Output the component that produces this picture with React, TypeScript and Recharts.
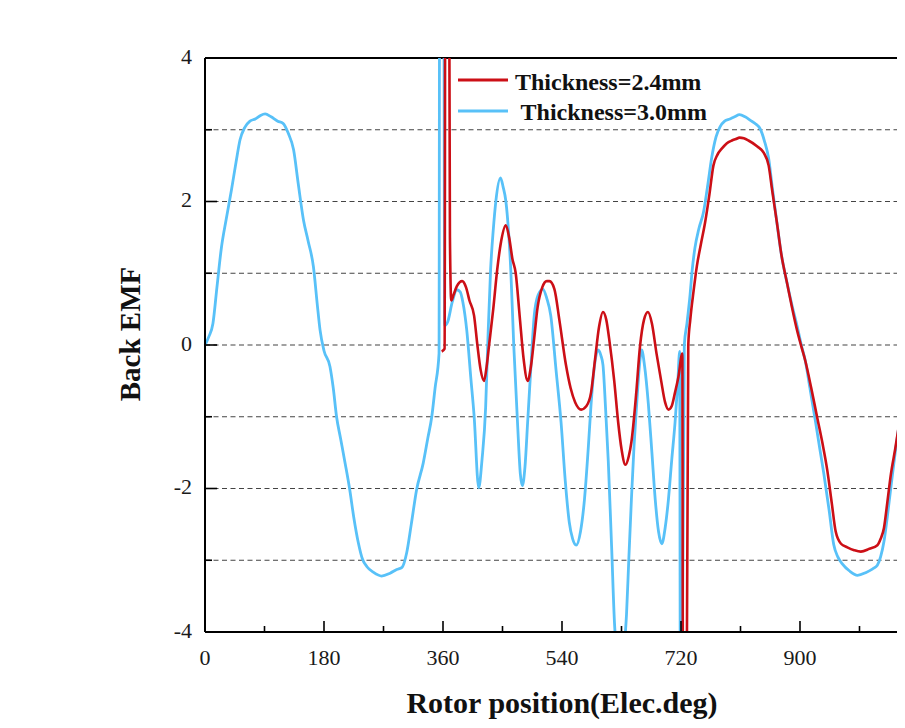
import React from 'react'
import { LineChart, Line, XAxis, YAxis, CartesianGrid, ReferenceLine, Legend, Label } from 'recharts'

// rotor position (elec. deg) and back EMF
const degThin = [
  358, 362.5, 363.5, 369, 370.5, 372.5, 376, 381, 389, 395, 400, 407, 412, 417, 422, 426, 429.5, 436, 442, 448,
  455, 460, 465, 470, 476, 482, 488, 493, 498, 503, 510, 517, 521, 528.5, 536, 546, 553, 560, 569, 577,
  584, 590, 596, 602, 607, 612, 619, 625, 630, 636, 641, 645, 652, 658, 664, 670, 676, 683, 690, 696,
  701, 706, 711, 716, 722, 723, 728.5, 731, 734, 739, 744, 750, 756.5, 763, 769, 775, 782, 789, 797, 803,
  808.6, 815, 822, 835, 845, 852.6, 858, 865, 872, 880.5, 888, 895.7, 902, 908, 917, 926, 934, 941, 948, 954,
  962, 971.6, 982, 992, 1005, 1017, 1022, 1027, 1032, 1037.5, 1044, 1050, 1055, 1060, 1070, 1080,
]
const emfThin = [
  -0.09, -0.05, 6, 6, 1.5, 0.62, 0.7, 0.82, 0.89, 0.8, 0.62, 0.41, 0.0, -0.35, -0.5, -0.3, -0.02, 0.5, 1.05, 1.45,
  1.67, 1.5, 1.2, 1.0, 0.4, -0.2, -0.5, -0.3, 0.1, 0.52, 0.8, 0.89, 0.89, 0.78, 0.35, -0.28, -0.6, -0.8, -0.9, -0.85,
  -0.66, -0.2, 0.25, 0.46, 0.35, 0.04, -0.5, -1.08, -1.45, -1.67, -1.55, -1.35, -0.7, -0.02, 0.35, 0.46, 0.3, -0.12, -0.5, -0.8,
  -0.9, -0.85, -0.66, -0.45, -0.12, -5, -5, 0.0, 0.35, 0.75, 1.1, 1.4, 1.71, 2.1, 2.5, 2.65, 2.74, 2.81, 2.85, 2.87,
  2.89, 2.88, 2.85, 2.77, 2.68, 2.5, 2.15, 1.71, 1.25, 0.86, 0.52, 0.2, -0.02, -0.22, -0.6, -1.01, -1.37, -1.73, -2.2, -2.6,
  -2.77, -2.82, -2.86, -2.88, -2.84, -2.79, -2.7, -2.55, -2.2, -1.8, -1.45, -1.1, -0.8, -0.5, -0.15, 0,
]

const degThick = [
  0, 6, 12, 18, 25, 32, 40, 47, 53, 60, 68, 76, 84, 91, 100, 110, 118, 126, 134, 141,
  149, 156, 164, 170, 174, 180, 189, 194, 199, 205, 212, 219, 225, 232, 238, 245, 255, 267, 280, 290,
  298, 305, 312, 320, 330, 337, 343, 348, 354, 355, 361, 362.5, 367, 374, 381, 386, 390, 396, 402, 407,
  414, 419, 424.5, 428, 432, 436, 440, 447, 451, 455, 459, 462.5, 467, 472.7, 477, 480, 484, 488, 493, 498,
  504, 511, 517, 523, 531, 538.6, 545, 551, 556, 561.5, 568, 574, 580, 584, 589, 594.6, 599, 602, 606, 610,
  615, 620, 625, 631, 635, 637.6, 641, 645, 649, 653, 657, 660.5, 665, 670.6, 676, 681, 686, 691, 696, 701,
  706, 711, 715, 718, 719, 721.5, 725, 729, 733.7, 737, 741, 747, 754, 760, 766.6, 773, 779, 786, 794, 801,
  808.6, 817, 825, 833, 840, 846, 852.6, 858, 865, 872, 880.5, 888, 895.7, 902, 908, 915, 923.5, 930, 936, 944,
  951, 957, 964, 975, 987, 1000, 1010, 1017, 1022, 1027, 1032, 1037.5, 1044, 1050, 1055, 1060, 1070, 1080,
]
const emfThick = [
  0, 0.12, 0.3, 0.8, 1.37, 1.75, 2.16, 2.55, 2.86, 3.03, 3.12, 3.15, 3.2, 3.22, 3.18, 3.12, 3.09, 2.95, 2.72, 2.25,
  1.74, 1.45, 1.09, 0.55, 0.21, -0.08, -0.3, -0.6, -1.0, -1.3, -1.65, -2.02, -2.4, -2.76, -2.98, -3.09, -3.17, -3.22, -3.18, -3.13,
  -3.1, -2.9, -2.5, -2.02, -1.65, -1.3, -1.0, -0.6, -0.12, 6, 6, 0.27, 0.32, 0.6, 0.77, 0.74, 0.6, 0.2, -0.45, -0.98,
  -1.99, -1.6, -0.87, 0.1, 1.05, 1.6, 2.01, 2.33, 2.2, 2.01, 1.6, 1.05, 0.0, -1.08, -1.8, -1.96, -1.7, -1.08, -0.3, 0.41,
  0.7, 0.78, 0.65, 0.41, -0.35, -1.08, -1.9, -2.47, -2.7, -2.79, -2.6, -2.15, -1.4, -0.82, -0.3, -0.07, -0.15, -0.28, -0.9, -1.62,
  -2.8, -3.97, -4.3, -4.3, -4.1, -3.75, -3.0, -2.15, -1.4, -0.82, -0.3, -0.07, -0.3, -0.82, -1.5, -2.15, -2.6, -2.77, -2.55, -2.15,
  -1.6, -1.08, -0.55, -0.09, -5, -5, 0.0, 0.3, 0.7, 1.05, 1.35, 1.62, 1.85, 2.2, 2.62, 2.9, 3.04, 3.12, 3.15, 3.18,
  3.21, 3.18, 3.13, 3.08, 3.01, 2.85, 2.6, 2.2, 1.71, 1.25, 0.86, 0.55, 0.26, 0.0, -0.22, -0.6, -1.07, -1.45, -1.79, -2.3,
  -2.78, -2.95, -3.05, -3.15, -3.21, -3.17, -3.12, -3.07, -2.95, -2.74, -2.4, -1.98, -1.5, -1.1, -0.8, -0.5, -0.15, 0,
]

const xTicks = [0, 90, 180, 270, 360, 450, 540, 630, 720, 810, 900, 990, 1080]
const yTicks = [-4, -3, -2, -1, 0, 1, 2, 3, 4]
const seriesNames = ['Thickness=2.4mm', ' Thickness=3.0mm']

const FONT = '"Liberation Serif", "Times New Roman", serif'
const RED = '#cc0f16'
const BLUE = '#58c1f8'

const allX = Array.from(new Set([...degThick, ...degThin])).sort((a, b) => a - b)
const data = allX.map((x) => {
  const b = degThick.indexOf(x)
  const r = degThin.indexOf(x)
  return { x, thick: b >= 0 ? emfThick[b] : null, thin: r >= 0 ? emfThin[r] : null }
})

const XTick = (props: any) => {
  const { x, y, payload } = props
  const v = payload.value
  const major = v % 180 === 0
  return (
    <g>
      <line x1={x} x2={x} y1={y} y2={y - (major ? 11 : 6)} stroke="#000" strokeWidth={1.6} />
      {major && (
        <text x={x} y={y + 25} textAnchor="middle" dominantBaseline="central" fontSize={22} fontFamily={FONT} fill="#1a1a1a">
          {v}
        </text>
      )}
    </g>
  )
}

const YTick = (props: any) => {
  const { x, y, payload } = props
  const v = payload.value
  const major = v % 2 === 0
  return (
    <g>
      <line x1={x} x2={x + (major ? 12 : 7)} y1={y} y2={y} stroke="#000" strokeWidth={1.6} />
      {major && (
        <text x={x - 13} y={y - 2} textAnchor="end" dominantBaseline="central" fontSize={22} fontFamily={FONT} fill="#1a1a1a">
          {v}
        </text>
      )}
    </g>
  )
}

const LegendBox = () => (
  <svg width={290} height={66} style={{ display: 'block' }}>
    <line x1={10} x2={60} y1={17} y2={17} stroke={RED} strokeWidth={3} />
    <text x={67} y={19} dominantBaseline="central" fontSize={24} fontWeight="bold" fontFamily={FONT} fill="#111">
      {seriesNames[0]}
    </text>
    <line x1={10} x2={60} y1={48} y2={48} stroke={BLUE} strokeWidth={3} />
    <text x={67} y={49} dominantBaseline="central" fontSize={24} fontWeight="bold" fontFamily={FONT} fill="#111" style={{ whiteSpace: 'pre' }}>
      {seriesNames[1]}
    </text>
  </svg>
)

export default function App() {
  return (
    <div style={{ width: 897, height: 712, overflow: 'hidden', background: '#fff' }}>
      <LineChart width={960} height={712} data={data} margin={{ top: 50, right: 49, left: 0, bottom: 0 }}>
        <CartesianGrid horizontal vertical={false} stroke="#444" strokeWidth={1.2} strokeDasharray="5 3.5" />
        <XAxis
          dataKey="x"
          type="number"
          domain={[0, 1080]}
          ticks={xTicks}
          interval={0}
          tickSize={0}
          tickMargin={0}
          tick={<XTick />}
          height={88}
          axisLine={{ stroke: '#000', strokeWidth: 2 }}
        >
          <Label
            content={(p: any) => {
              const vb = p.viewBox
              return (
                <text x={vb.x + vb.width / 2} y={vb.y + vb.height - 7} textAnchor="middle" fontSize={30} fontWeight="bold" fontFamily={FONT} fill="#111">
                  Rotor position(Elec.deg)
                </text>
              )
            }}
          />
        </XAxis>
        <YAxis
          type="number"
          domain={[-4, 4]}
          ticks={yTicks}
          interval={0}
          allowDataOverflow
          tickSize={0}
          tickMargin={0}
          tick={<YTick />}
          width={197}
          axisLine={{ stroke: '#000', strokeWidth: 2 }}
        >
          <Label
            content={(p: any) => {
              const vb = p.viewBox
              const cx = vb.x + vb.width - 75
              const cy = vb.y + vb.height / 2 - 11
              return (
                <text x={cx} y={cy} transform={`rotate(-90 ${cx} ${cy})`} textAnchor="middle" dominantBaseline="central" fontSize={29} fontWeight="bold" fontFamily={FONT} fill="#111">
                  Back EMF
                </text>
              )
            }}
          />
        </YAxis>
        <ReferenceLine y={4} stroke="#000" strokeWidth={2} />
        <Legend
          layout="vertical"
          align="center"
          verticalAlign="middle"
          wrapperStyle={{ left: 440, top: 55, width: 'auto', height: 'auto' }}
          content={() => <LegendBox />}
        />
        <Line
          dataKey="thick"
          name={seriesNames[1]}
          type="monotone"
          stroke={BLUE}
          strokeWidth={2.8}
          dot={false}
          connectNulls
          isAnimationActive={false}
        />
        <Line
          dataKey="thin"
          name={seriesNames[0]}
          type="monotone"
          stroke={RED}
          strokeWidth={2.6}
          dot={false}
          connectNulls
          isAnimationActive={false}
        />
      </LineChart>
    </div>
  )
}
